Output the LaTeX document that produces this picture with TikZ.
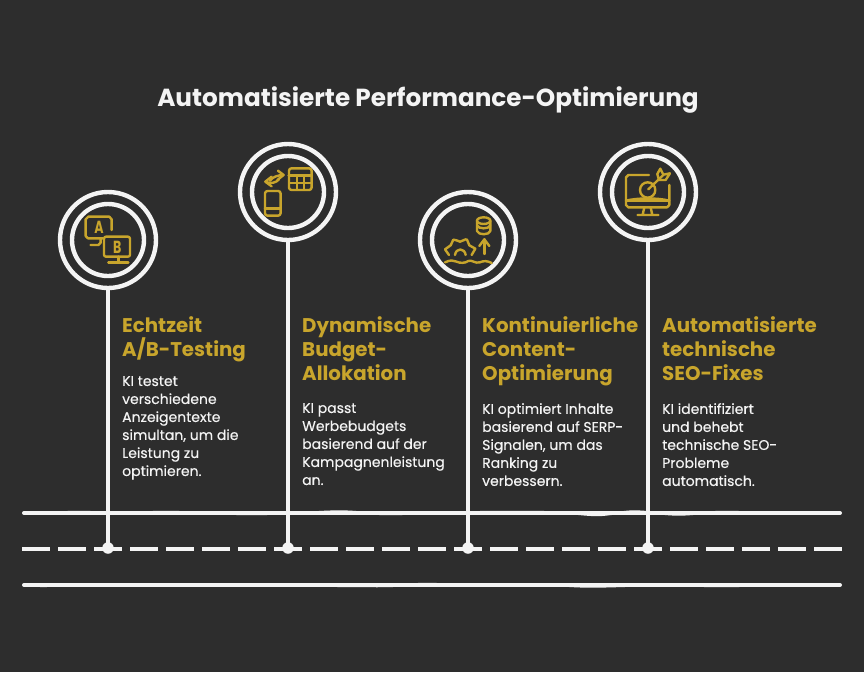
\documentclass[tikz,border=0pt]{standalone}
\usepackage{fontspec}
\setmainfont{Poppins}
\newfontfamily\bodyfont[FakeBold=0.35]{Poppins}
\usetikzlibrary{arrows.meta}
\definecolor{bgc}{HTML}{2D2D2D}
\definecolor{ink}{HTML}{F4F4F4}
\definecolor{gold}{HTML}{C8A52C}
\tikzset{
 ring/.style={circle,draw=ink,line width=4.4pt,inner sep=0pt,outer sep=0pt,fill=none},
 outerring/.style={ring,minimum size=96pt},
 innerring/.style={ring,minimum size=72pt},
 rail/.style={draw=ink,line width=4pt,line cap=round},
 railsolid/.style={rail},
 raildash/.style={rail,line cap=butt,dash pattern=on 28pt off 8pt},
 railwobble/.style={draw=ink,line width=2.4pt},
 stem/.style={draw=ink,line width=4pt},
 dotnode/.style={circle,fill=ink,inner sep=0pt,minimum size=11.5pt},
 heading/.style={anchor=north west,inner sep=0pt,align=left,text=gold,font=\bfseries\fontsize{19.8}{24}\selectfont},
 bodytext/.style={anchor=north west,inner sep=0pt,align=left,text=ink,font=\bodyfont\fontsize{14}{18}\selectfont},
 titletext/.style={inner sep=0pt,text=ink,font=\bfseries\fontsize{24.7}{28}\selectfont},
 icon/.style={draw=gold,line width=2.4pt,line cap=round,line join=round},
 iconthick/.style={draw=gold,line width=3.2pt,line cap=round},
 letter/.style={inner sep=0pt,text=gold,xscale=0.72,font=\bfseries\fontsize{17.5}{18}\selectfont},
 zoomA/.style={shift={(40pt,-130pt)},x=0.3333pt,y=-0.3333pt},
 zoomB/.style={shift={(400pt,-130pt)},x=0.3333pt,y=-0.3333pt},
}
\begin{document}
\begin{tikzpicture}[x=1pt,y=-1pt]
\useasboundingbox[fill=bgc] (0,0) rectangle (864,672);
\node[titletext] (title) at (428,100) {Automatisierte Performance-Optimierung};
% rings
\foreach \n/\x/\y in {a/108/240,b/288/192,c/468/240,d/648/192}{
  \node[outerring] (\n o) at (\x,\y) {};
  \node[innerring] (\n i) at (\x,\y) {};
  \node[dotnode] (\n d) at (\x,548) {};
}
% rails
\coordinate (r1l) at (24,513); \coordinate (r1r) at (840,513);
\coordinate (r2l) at (22,549); \coordinate (r2r) at (842,549);
\coordinate (r3l) at (24,585); \coordinate (r3r) at (840,585);
\draw[railsolid] (r1l) -- (r1r);
\draw[raildash] (r2l) -- (r2r);
\draw[railsolid] (r3l) -- (r3r);
\draw[railwobble] plot[smooth] coordinates {(40,513) (80,512) (120,513) (165,512) (210,513) (250,514) (300,513) (342,511.5) (385,514) (430,513) (500,512) (560,512.5) (598,515) (634,511.5) (678,514.5) (722,512) (790,513.5) (830,513)};
\draw[railwobble] plot[smooth] coordinates {(40,586) (80,585) (150,584.5) (220,585.5) (300,585.5) (385,586) (425,584) (480,585.5) (540,584.5) (590,586.5) (660,585) (720,586) (780,585) (830,584.5)};
\foreach \n in {a,b,c,d}{ \draw[stem] (\n o.south) -- (\n d.center); }
% text
\node[heading] (h1) at (122,316) {Echtzeit\\A/B-Testing};
\node[heading] (h2) at (302,316) {Dynamische\\Budget-\\Allokation};
\node[heading] (h3) at (482,316) {Kontinuierliche\\Content-\\Optimierung};
\node[heading] (h4) at (662,316) {Automatisierte\\technische\\SEO-Fixes};
\node[bodytext] (t1) at (122,376) {KI testet\\verschiedene\\Anzeigentexte\\simultan, um die\\Leistung zu\\optimieren.};
\node[bodytext] (t2) at (302,403) {KI passt\\Werbebudgets\\basierend auf der\\Kampagnenleistung\\an.};
\node[bodytext] (t3) at (482,403) {KI optimiert Inhalte\\basierend auf SERP-\\Signalen, um das\\Ranking zu\\verbessern.};
\node[bodytext] (t4) at (662,403) {KI identifiziert\\und behebt\\technische SEO-\\Probleme\\automatisch.};
% icon A/B
\begin{scope}[zoomA]
 \draw[icon] (215,300) -- (215,268) -- (208,260) -- (145,260) -- (137,268) -- (137,318) -- (144,325) -- (190,325);
 \draw[icon] (182,325) -- (182,338) -- (175,345) -- (152,345);
 \draw[icon,rounded corners=2pt] (192,320) rectangle (270,380);
 \draw[icon] (235,380) -- (235,398) (205,398) -- (265,398);
 \node[letter] (la) at (177,292) {A};
 \node[letter] (lb) at (232,352) {B};
 % icon budget
 \draw[icon,rounded corners=2.5pt] (747,115) rectangle (815,180);
 \draw[iconthick] (747,136) -- (815,136);
 \draw[icon,line width=1.9pt] (747,158) -- (815,158) (771,136) -- (771,180) (793,136) -- (793,180);
 \draw[icon,rounded corners=2.5pt] (675,183) rectangle (722,257);
 \draw[icon] (675,236) -- (722,236);
 \draw[icon] (690,152) .. controls (700,140) and (712,136) .. (730,135);
 \draw[icon] (714,122) -- (731,135) -- (712,150);
 \draw[icon] (717,148) .. controls (708,158) and (695,162) .. (677,156);
 \draw[icon] (695,140) -- (676,155) -- (695,169);
\end{scope}
\begin{scope}[zoomB]
 % icon content
 \draw[icon] (251,272) ellipse (20 and 10);
 \draw[icon] (231,272) -- (231,303) .. controls (235,316) and (267,316) .. (271,303) -- (271,272);
 \draw[icon] (231,286) .. controls (235,298) and (267,298) .. (271,286);
 \draw[icon] (253,372) -- (253,328);
 \draw[icon] (238,348) -- (253,328) -- (268,348);
 \draw[icon] (147,375) -- (135,358) -- (152,346) -- (160,329) .. controls (166,326) and (172,335) .. (180,335) .. controls (188,335) and (195,325) .. (201,329) -- (208,346) -- (226,356) -- (215,375);
 \draw[icon] (165,375) .. controls (168,353) and (194,353) .. (197,375);
 \draw[icon] (135,397) .. controls (150,390) and (160,390) .. (170,395) .. controls (180,400) and (195,400) .. (205,393) .. controls (215,388) and (225,402) .. (240,397) .. controls (250,392) and (262,392) .. (275,399);
 % icon target
 \draw[icon] (747,135) -- (685,135) -- (678,142) -- (678,225) -- (685,232) -- (801,232) -- (808,225) -- (808,165);
 \draw[icon,fill=gold] (678,212) .. controls (715,203) and (771,203) .. (808,212) -- cycle;
 \draw[icon] (733,232) -- (728,255) (752,232) -- (757,255) (713,255) -- (775,255);
 \draw[icon] (743,180) circle (23);
 \draw[icon] (745,178) -- (790,135);
 \draw[icon] (772,132) -- (781,116) -- (790,134) -- (810,130) -- (797,150) -- (777,150) -- cycle;
\end{scope}
\end{tikzpicture}
\end{document}
